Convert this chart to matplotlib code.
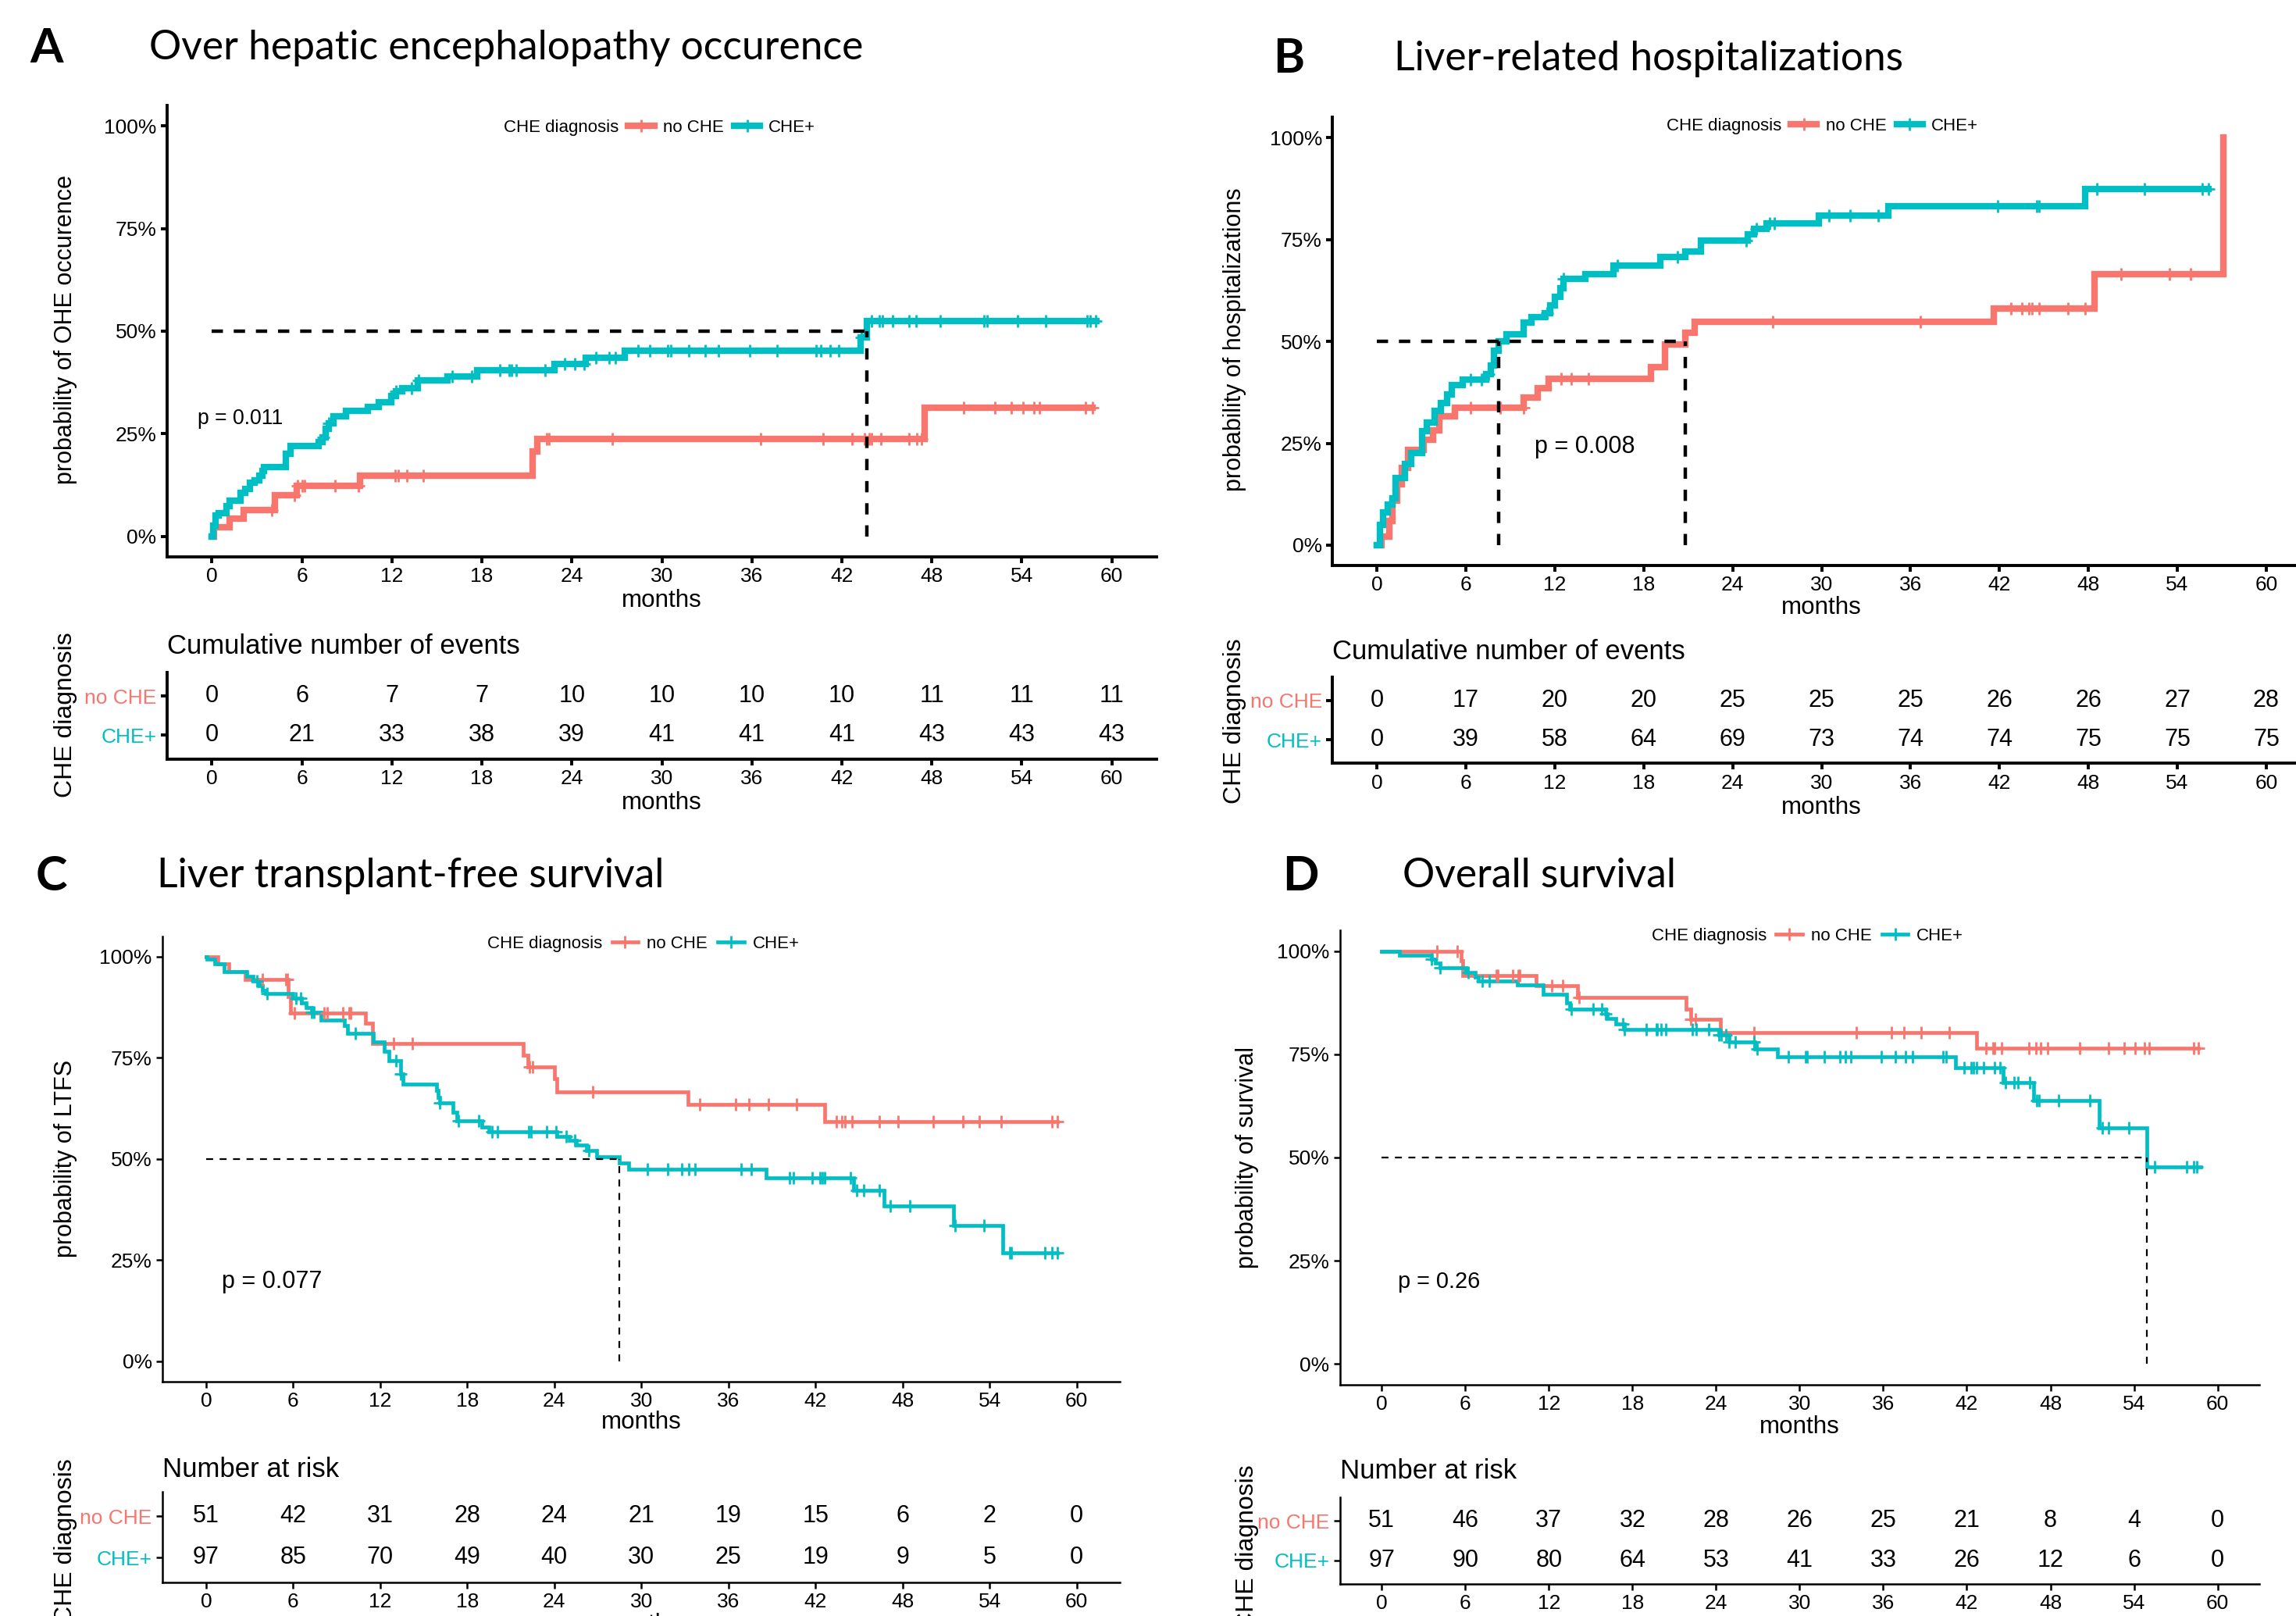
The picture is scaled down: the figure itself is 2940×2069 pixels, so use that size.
import numpy as np
import matplotlib
matplotlib.use("Agg")
import matplotlib.pyplot as plt
from matplotlib.lines import Line2D

plt.rcParams['font.family'] = ['Liberation Sans', 'DejaVu Sans']

# ---------------- data ----------------
MONTHS = list(range(0, 61, 6))
PCT_TICKS = [0, 0.25, 0.5, 0.75, 1.0]
PCT_LABELS = ['0%', '25%', '50%', '75%', '100%']
GROUPS = ['no CHE', 'CHE+']

# A: overt hepatic encephalopathy (cumulative incidence)
A_noche_t = [0, 0.13, 1.17, 2.11, 4.2, 5.67, 9.86, 21.37, 21.69, 47.5]
A_noche_v = [0, 0.022, 0.042, 0.063, 0.10, 0.123, 0.147, 0.206, 0.237, 0.314]
A_noche_end = 58.7
A_noche_cens = [4.0, 5.5, 5.7, 6.0, 6.2, 8.2, 9.75, 12.2, 12.4, 13.0, 14.1, 22.3, 22.5, 26.7,
                36.6, 40.75, 42.7, 43.5, 43.8, 44.0, 44.6, 46.5, 47.0, 47.3, 50.1, 52.2, 53.3,
                54.1, 54.8, 55.2, 58.25, 58.7]
A_che_t = [0, 0.08, 0.23, 0.44, 0.96, 1.17, 1.9, 2.22, 2.53, 2.85, 3.16, 3.37, 3.47, 4.94, 5.25,
           7.14, 7.35, 7.56, 7.77, 8.08, 8.92, 10.38, 11.12, 11.95, 12.27, 12.69, 13.73, 15.72,
           17.71, 22.84, 24.93, 27.55, 43.25, 43.66]
A_che_v = [0, 0.025, 0.05, 0.056, 0.074, 0.086, 0.105, 0.116, 0.13, 0.136, 0.147, 0.16, 0.168, 0.2,
           0.22, 0.23, 0.24, 0.262, 0.276, 0.293, 0.305, 0.315, 0.326, 0.342, 0.354, 0.36, 0.38,
           0.39, 0.405, 0.419, 0.436, 0.453, 0.485, 0.524]
A_che_end = 59.0
A_che_cens = [7.45, 7.77, 12.27, 13.3, 13.8, 16.0, 17.3, 19.2, 19.8, 20.0, 20.3, 22.2, 23.5, 24.2,
              24.8, 25.6, 26.5, 26.9, 28.4, 29.2, 30.4, 30.6, 31.8, 32.9, 33.75, 35.86, 37.66,
              40.27, 40.58, 41.2, 41.8, 43.3, 44.0, 44.5, 44.7, 45.4, 46.5, 46.95, 48.55, 51.5,
              51.7, 53.7, 55.6, 58.35, 58.55, 58.9]
A_table_noche = [0, 6, 7, 7, 10, 10, 10, 10, 11, 11, 11]
A_table_che = [0, 21, 33, 38, 39, 41, 41, 41, 43, 43, 43]

# B: liver-related hospitalizations (cumulative incidence)
B_noche_t = [0, 0.3, 0.83, 1.04, 1.36, 1.67, 2.1, 3.15, 3.79, 4.21, 5.27, 9.92, 10.87, 11.6,
             18.48, 19.43, 20.8, 21.44, 41.6, 48.4, 57.1]
B_noche_v = [0, 0.021, 0.06, 0.11, 0.15, 0.19, 0.233, 0.258, 0.282, 0.317, 0.338, 0.362, 0.386,
             0.409, 0.437, 0.493, 0.522, 0.548, 0.58, 0.665, 1.0]
B_noche_end = 57.1
B_noche_cens = [6.33, 8.33, 9.9, 12.45, 13.1, 14.25, 26.7, 36.65, 42.8, 43.5, 44.0, 44.2, 44.7,
                46.6, 47.8, 50.2, 53.5, 54.9]
B_che_t = [0, 0.2, 0.4, 0.72, 1.04, 1.25, 1.89, 2.31, 3.05, 3.37, 3.9, 4.32, 4.74, 5.06, 5.8,
           7.38, 7.7, 7.91, 8.23, 8.76, 9.92, 10.45, 11.3, 11.7, 12.0, 12.35, 12.56, 14.04, 15.94,
           19.1, 20.8, 21.86, 25.0, 25.46, 26.3, 29.8, 34.5, 47.8]
B_che_v = [0, 0.05, 0.08, 0.10, 0.115, 0.165, 0.20, 0.226, 0.28, 0.30, 0.33, 0.348, 0.37, 0.393,
           0.406, 0.42, 0.44, 0.477, 0.501, 0.517, 0.547, 0.56, 0.57, 0.588, 0.61, 0.63, 0.653,
           0.664, 0.686, 0.707, 0.72, 0.747, 0.763, 0.776, 0.79, 0.808, 0.832, 0.874]
B_che_end = 56.1
B_che_cens = [6.3, 7.06, 7.5, 11.5, 12.56, 16.2, 20.3, 24.9, 25.6, 26.5, 26.8, 30.5, 31.9, 33.8,
              41.9, 44.5, 44.7, 48.6, 51.8, 55.7, 56.1]
B_table_noche = [0, 17, 20, 20, 25, 25, 25, 26, 26, 27, 28]
B_table_che = [0, 39, 58, 64, 69, 73, 74, 74, 75, 75, 75]

# C: liver transplant-free survival
C_noche_t = [0, 0.81, 1.55, 2.72, 5.66, 5.81, 11.0, 11.45, 21.87, 22.2, 24.0, 24.2, 33.2, 42.66]
C_noche_v = [1.0, 0.982, 0.962, 0.943, 0.90, 0.86, 0.835, 0.785, 0.756, 0.727, 0.698, 0.666,
             0.635, 0.593]
C_noche_end = 58.7
C_noche_cens = [3.9, 5.5, 5.6, 6.1, 8.15, 8.36, 9.4, 9.85, 9.96, 12.9, 14.2, 22.3, 22.5, 26.66,
                34.0, 36.5, 37.4, 38.75, 40.7, 43.45, 43.8, 44.06, 44.5, 46.4, 47.7, 50.1, 52.15,
                53.3, 54.8, 58.3, 58.7]
C_che_t = [0, 0.06, 0.6, 1.23, 2.83, 3.26, 3.68, 3.9, 4.1, 6.0, 6.55, 6.87, 7.3, 7.94, 9.53, 9.74,
           11.55, 12.3, 12.6, 13.4, 13.57, 15.9, 16.0, 16.1, 17.0, 17.3, 19.0, 19.5, 24.2, 25.06,
           25.5, 26.2, 26.9, 28.47, 29.1, 38.6, 44.6, 46.7, 51.5, 54.9]
C_che_v = [1.0, 0.993, 0.982, 0.962, 0.95, 0.939, 0.928, 0.917, 0.908, 0.896, 0.885, 0.874, 0.863,
           0.843, 0.83, 0.81, 0.788, 0.766, 0.743, 0.71, 0.685, 0.67, 0.651, 0.639, 0.615, 0.594,
           0.579, 0.567, 0.555, 0.545, 0.534, 0.52, 0.506, 0.49, 0.475, 0.454, 0.423, 0.384,
           0.335, 0.269]
C_che_end = 58.7
C_che_cens = [3.53, 4.2, 6.2, 6.5, 7.3, 7.45, 10.3, 13.1, 13.4, 16.1, 17.4, 18.8, 19.7, 20.1, 22.25,
              22.4, 23.5, 24.1, 24.8, 25.4, 26.4, 30.4, 31.8, 32.8, 33.25, 33.7, 36.9, 37.6, 40.2,
              40.5, 41.8, 42.3, 42.45, 42.66, 44.4, 44.85, 45.3, 46.4, 47.15, 48.5, 51.6, 53.6,
              55.4, 55.5, 57.8, 58.3, 58.7]
C_table_noche = [51, 42, 31, 28, 24, 21, 19, 15, 6, 2, 0]
C_table_che = [97, 85, 70, 49, 40, 30, 25, 19, 9, 5, 0]

# D: overall survival
D_noche_t = [0, 5.73, 5.84, 11.07, 14.07, 21.84, 22.18, 24.29, 42.7]
D_noche_v = [1.0, 0.976, 0.94, 0.916, 0.888, 0.86, 0.835, 0.802, 0.764]
D_noche_end = 58.6
D_noche_cens = [3.96, 5.44, 8.24, 8.33, 9.4, 9.8, 9.9, 12.2, 13.0, 14.2, 22.2, 22.5, 26.7, 34.05,
                36.6, 37.5, 38.75, 40.75, 43.4, 43.9, 44.0, 44.5, 46.45, 46.95, 47.3, 47.8, 50.1,
                52.2, 53.3, 54.1, 54.75, 55.1, 58.3, 58.6]
D_che_t = [0, 1.29, 3.58, 3.84, 4.18, 6.07, 6.73, 6.96, 9.73, 11.6, 13.3, 13.5, 16.07, 16.2, 16.8,
           17.4, 24.2, 24.96, 26.8, 28.4, 41.2, 44.6, 46.8, 51.5, 54.9]
D_che_v = [1.0, 0.99, 0.98, 0.97, 0.96, 0.949, 0.936, 0.927, 0.917, 0.895, 0.875, 0.86, 0.848,
           0.837, 0.824, 0.81, 0.796, 0.78, 0.762, 0.744, 0.717, 0.681, 0.637, 0.572, 0.478]
D_che_end = 58.8
D_che_cens = [3.6, 4.18, 6.2, 7.2, 7.7, 13.6, 15.2, 15.8, 16.1, 17.3, 17.4, 19.0, 19.7, 19.8, 20.07,
              20.4, 22.3, 22.6, 23.5, 24.2, 24.4, 24.7, 24.96, 25.4, 26.7, 26.95, 29.2, 30.4, 30.55,
              31.8, 32.9, 33.3, 33.7, 35.85, 36.9, 37.6, 38.1, 40.3, 40.5, 41.8, 42.3, 42.5, 42.7,
              43.2, 44.0, 44.4, 44.8, 45.4, 45.7, 46.5, 47.0, 47.2, 48.6, 50.85, 51.7, 52.2, 53.65,
              55.5, 57.8, 58.3, 58.5]
D_table_noche = [51, 46, 37, 32, 28, 26, 25, 21, 8, 4, 0]
D_table_che = [97, 90, 80, 64, 53, 41, 33, 26, 12, 6, 0]

P_VALUES = ['p = 0.011', 'p = 0.008', 'p = 0.077', 'p = 0.26']

# ---------------- layout (positions on a 1568 x 1103 grid) ----------------
W, H = 1568.0, 1103.0
RED = '#F8766D'
TEAL = '#00BFC4'
TITLE_FONT = ['Lato', 'DejaVu Sans']

PANELS = [
    dict(letter='A', title='Over hepatic encephalopathy occurence', letter_xy=(32, 33), title_x=102,
         main=(114, 72, 790, 380), table=(114, 459, 790, 518), ylab='probability of OHE occurence',
         ylab_xy=(45, 225), xlab_y=410, ttitle='Cumulative number of events', ttitle_y=441,
         tylab_xy=(45, 488), txlab_y=548, leg=(344, 87), pxy=(-0.98, 0.287), pfs=9.6,
         surv=False, lw=3.0, dlw=1.6, slw=1.4, ms=6, title_y=33),
    dict(letter='B', title='Liver-related hospitalizations', letter_xy=(880, 40), title_x=952,
         main=(910, 80, 1578, 386), table=(910, 462, 1578, 521), ylab='probability of hospitalizations',
         ylab_xy=(843, 232), xlab_y=415, ttitle='Cumulative number of events', ttitle_y=445,
         tylab_xy=(843, 492), txlab_y=551, leg=(1138, 86), pxy=(10.66, 0.241), pfs=11,
         surv=False, lw=3.0, dlw=1.6, slw=1.4, ms=6, title_y=40),
    dict(letter='C', title='Liver transplant-free survival', letter_xy=(35, 598), title_x=107,
         main=(111, 639, 765, 943), table=(111, 1018, 765, 1080), ylab='probability of LTFS',
         ylab_xy=(45, 791), xlab_y=971, ttitle='Number at risk', ttitle_y=1003,
         tylab_xy=(45, 1052), txlab_y=1109, leg=(333, 644), pxy=(1.1, 0.196), pfs=11,
         surv=True, lw=1.7, dlw=0.8, slw=0.9, ms=6, title_y=598),
    dict(letter='D', title='Overall survival', letter_xy=(888, 598), title_x=958,
         main=(915, 635, 1543, 945), table=(915, 1022, 1543, 1081), ylab='probability of survival',
         ylab_xy=(852, 790), xlab_y=974, ttitle='Number at risk', ttitle_y=1004,
         tylab_xy=(852, 1056), txlab_y=1111, leg=(1128, 639), pxy=(1.16, 0.199), pfs=10.4,
         surv=True, lw=1.7, dlw=0.8, slw=0.9, ms=6, title_y=598),
]

CURVES = [
    ((A_noche_t, A_noche_v, A_noche_end, A_noche_cens), (A_che_t, A_che_v, A_che_end, A_che_cens)),
    ((B_noche_t, B_noche_v, B_noche_end, B_noche_cens), (B_che_t, B_che_v, B_che_end, B_che_cens)),
    ((C_noche_t, C_noche_v, C_noche_end, C_noche_cens), (C_che_t, C_che_v, C_che_end, C_che_cens)),
    ((D_noche_t, D_noche_v, D_noche_end, D_noche_cens), (D_che_t, D_che_v, D_che_end, D_che_cens)),
]
TABLES = [(A_table_noche, A_table_che), (B_table_noche, B_table_che),
          (C_table_noche, C_table_che), (D_table_noche, D_table_che)]


def rect(x0, y0, x1, y1):
    return [x0 / W, 1 - y1 / H, (x1 - x0) / W, (y1 - y0) / H]


def fx(x):
    return x / W


def fy(y):
    return 1 - y / H


def style_axes(ax, slw):
    for s in ['top', 'right']:
        ax.spines[s].set_visible(False)
    for s in ['left', 'bottom']:
        ax.spines[s].set_linewidth(slw)
    ax.tick_params(length=2.8, width=slw, pad=2, labelsize=9.5, colors='black')


def median_time(t, v, surv):
    t = np.asarray(t)
    v = np.asarray(v)
    hit = v <= 0.5 if surv else v >= 0.5
    return t[np.argmax(hit)] if hit.any() else None


fig = plt.figure(figsize=(14.7, 10.345), dpi=200)

for p, curves, table, pval in zip(PANELS, CURVES, TABLES, P_VALUES):
    # headings
    fig.text(fx(p['letter_xy'][0]), fy(p['letter_xy'][1]), p['letter'], family=TITLE_FONT,
             fontweight='bold', fontsize=22, ha='center', va='center')
    fig.text(fx(p['title_x']), fy(p['title_y']), p['title'], family=TITLE_FONT, fontsize=18.6,
             ha='left', va='center')

    # survival / incidence curves
    ax = fig.add_axes(rect(*p['main']))
    style_axes(ax, p['slw'])
    ax.set_xlim(-3, 63)
    ax.set_ylim(-0.05, 1.05)
    ax.set_xticks(MONTHS)
    ax.set_yticks(PCT_TICKS)
    ax.set_yticklabels(PCT_LABELS)
    ax.patch.set_alpha(0)

    medians = []
    for (t, v, end, cens), color in zip(curves, (RED, TEAL)):
        ax.step(list(t) + [end], list(v) + [v[-1]], where='post', color=color, lw=p['lw'],
                solid_joinstyle='miter', zorder=3)
        idx = np.searchsorted(t, cens, side='right') - 1
        ax.plot(cens, np.asarray(v)[idx], '+', color=color, ms=p['ms'], mew=1.0, zorder=4)
        m = median_time(t, v, p['surv'])
        if m is not None:
            medians.append(m)
    if p['dlw'] > 1:
        dash = (0, (5.2 / p['dlw'], 5.0 / p['dlw']))
    else:
        dash = (0, (3.2 / p['dlw'], 3.0 / p['dlw']))
    if medians:
        ax.plot([0, max(medians)], [0.5, 0.5], color='black', lw=p['dlw'], ls=dash, zorder=5)
        for m in medians:
            ax.plot([m, m], [0, 0.5], color='black', lw=p['dlw'], ls=dash, zorder=5)

    ax.text(p['pxy'][0], p['pxy'][1], pval, fontsize=p['pfs'], ha='left', va='center')
    fig.text(fx(p['ylab_xy'][0]), fy(p['ylab_xy'][1]), p['ylab'], rotation=90, fontsize=11,
             ha='center', va='center')
    x30 = p['main'][0] + (33 / 66) * (p['main'][2] - p['main'][0])
    fig.text(fx(x30), fy(p['xlab_y']), 'months', fontsize=11.3, ha='center', va='center')

    # legend
    lx, ly = p['leg']
    fig.text(fx(lx), fy(ly), 'CHE diagnosis', fontsize=8, ha='left', va='center')
    handles = [Line2D([], [], color=c, lw=p['lw'], marker='+', ms=p['ms'], mew=1.0)
               for c in (RED, TEAL)]
    fig.legend(handles, GROUPS, loc='center left', bbox_to_anchor=(fx(lx + 85), fy(ly)),
               ncol=2, frameon=False, fontsize=8, handlelength=1.5, handletextpad=0.5,
               columnspacing=0.6, borderpad=0, borderaxespad=0)

    # risk / events table
    tx = fig.add_axes(rect(*p['table']))
    style_axes(tx, p['slw'])
    tx.set_xlim(-3, 63)
    tx.set_ylim(0.4, 2.6)
    tx.set_xticks(MONTHS)
    tx.set_yticks([2, 1])
    tx.set_yticklabels(GROUPS)
    for lab, c in zip(tx.get_yticklabels(), (RED, TEAL)):
        lab.set_color(c)
    tx.patch.set_alpha(0)
    for row, counts in zip((2, 1), table):
        for m, n in zip(MONTHS, counts):
            tx.text(m, row, str(n), fontsize=11, ha='center', va='center')
    fig.text(fx(p['table'][0]), fy(p['ttitle_y']), p['ttitle'], fontsize=12.5, ha='left', va='center')
    fig.text(fx(p['tylab_xy'][0]), fy(p['tylab_xy'][1]), 'CHE diagnosis', rotation=90,
             fontsize=11.5, ha='center', va='center')
    fig.text(fx(x30), fy(p['txlab_y']), 'months', fontsize=11.3, ha='center', va='center')

fig.savefig('out.png', dpi=200, facecolor='white')
